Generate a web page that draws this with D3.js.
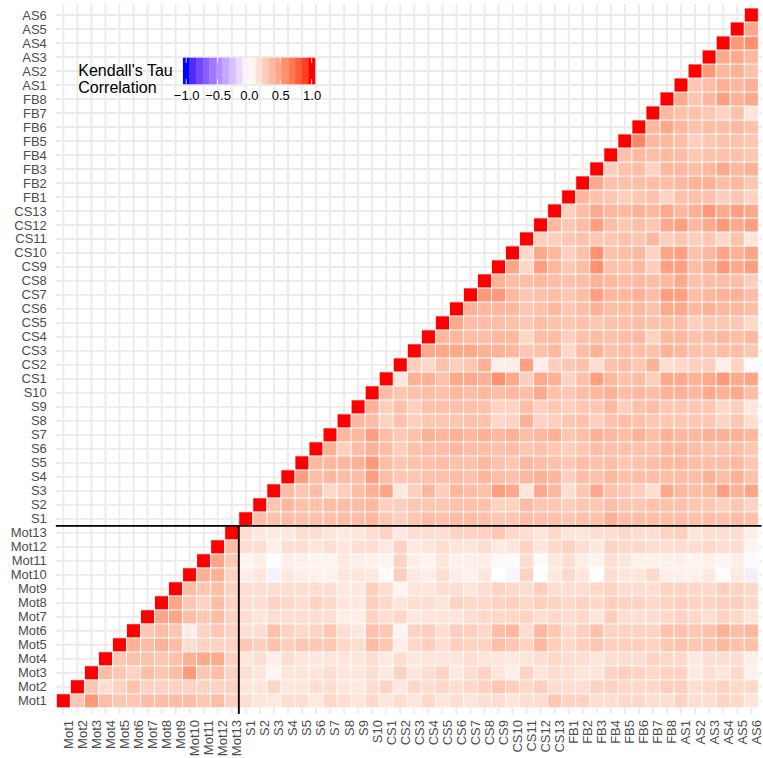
<!DOCTYPE html>
<html>
<head>
<meta charset="utf-8">
<script src="https://cdn.jsdelivr.net/npm/d3@7"></script>
<style>
  body { margin: 0; background: #fff; }
  svg { display: block; font-family: "Liberation Sans", Arial, Helvetica, sans-serif; }
</style>
</head>
<body>
<svg id="chart" width="763" height="758"></svg>
<script>
// variable names, in axis order
var motVars = ['Mot1','Mot2','Mot3','Mot4','Mot5','Mot6','Mot7','Mot8','Mot9','Mot10','Mot11','Mot12','Mot13'];
var sVars = ['S1','S2','S3','S4','S5','S6','S7','S8','S9','S10'];
var csVars = ['CS1','CS2','CS3','CS4','CS5','CS6','CS7','CS8','CS9','CS10','CS11','CS12','CS13'];
var fbVars = ['FB1','FB2','FB3','FB4','FB5','FB6','FB7','FB8'];
var asVars = ['AS1','AS2','AS3','AS4','AS5','AS6'];

// Kendall's tau, upper triangle: each row starts at its own diagonal
var tauMot = [
  [1,.30,.53,.35,.30,.30,.35,.35,.35,.35,.30,.35,.24,.18,.14,.12,.18,.18,.12,.21,.18,.14,.21,.14,.18,.14,.21,.14,.18,.14,.18,.18,.14,.18,.18,.30,.24,.24,.18,.18,.21,.21,.18,.18,.24,.18,.18,.24,.21,.14],
  [1,.30,.18,.24,.33,.24,.24,.24,.24,.24,.24,.24,.14,.14,.21,.14,.14,.18,.18,.14,.12,.18,.24,.12,.21,.18,.21,.18,.21,.24,.30,.26,.21,.26,.18,.18,.18,.24,.24,.21,.21,.21,.26,.26,.18,.21,.24,.21,.21],
  [1,.35,.30,.24,.35,.30,.35,.53,.30,.35,.24,.18,.14,.06,.14,.14,.14,.18,.14,.14,.18,.12,.24,.14,.18,.24,.12,.18,.24,.14,.09,.24,.14,.18,.18,.14,.14,.24,.26,.24,.21,.24,.24,.12,.18,.14,.21,.07],
  [1,.30,.33,.33,.30,.33,.41,.45,.45,.24,.14,.18,.09,.18,.14,.12,.14,.14,.14,.18,.12,.18,.12,.14,.14,.14,.18,.14,.14,.12,.14,.18,.21,.18,.18,.14,.18,.18,.18,.24,.21,.21,.12,.18,.18,.18,.09],
  [1,.41,.35,.41,.35,.18,.24,.24,.24,.30,.26,.33,.26,.30,.30,.30,.21,.18,.35,.30,.09,.21,.26,.18,.26,.24,.24,.35,.30,.24,.38,.26,.21,.26,.30,.26,.26,.26,.24,.30,.33,.30,.33,.38,.33,.33],
  [1,.30,.35,.30,.09,.24,.30,.24,.18,.18,.33,.24,.21,.24,.30,.18,.12,.33,.30,.06,.24,.26,.18,.26,.26,.21,.35,.38,.18,.38,.30,.21,.26,.33,.24,.24,.24,.24,.33,.33,.30,.33,.41,.35,.38],
  [1,.47,.47,.35,.30,.35,.24,.18,.14,.18,.18,.18,.18,.18,.09,.09,.24,.18,.21,.12,.14,.14,.14,.18,.21,.21,.21,.24,.18,.21,.18,.21,.14,.26,.18,.18,.18,.21,.24,.21,.18,.24,.21,.14],
  [1,.47,.30,.24,.35,.24,.18,.18,.24,.21,.18,.24,.21,.14,.12,.26,.21,.14,.18,.18,.14,.24,.21,.21,.24,.26,.21,.26,.24,.21,.24,.21,.26,.24,.24,.21,.24,.26,.24,.24,.26,.26,.21],
  [1,.35,.30,.35,.24,.18,.18,.18,.18,.18,.18,.18,.12,.12,.26,.18,.06,.14,.14,.18,.18,.14,.18,.24,.21,.18,.26,.18,.18,.18,.21,.24,.18,.18,.18,.24,.24,.21,.21,.26,.24,.21],
  [1,.41,.41,.24,.09,.14,-.06,.12,.09,.08,.07,.14,.14,.12,.02,.26,.12,.09,.18,.09,.07,.14,.00,-.04,.24,.00,.12,.21,.14,.00,.18,.14,.14,.21,.09,.08,.08,.12,.02,.12,-.07],
  [1,.47,.30,.06,.09,.00,.09,.08,.06,.06,.12,.09,.08,.06,.24,.09,.06,.14,.08,.09,.09,.04,.02,.18,.02,.12,.18,.09,.07,.18,.14,.08,.08,.08,.08,.06,.08,.06,.09,-.02],
  [1,.35,.18,.18,.09,.18,.18,.14,.18,.14,.18,.18,.12,.24,.12,.14,.18,.14,.14,.18,.12,.14,.24,.14,.21,.24,.18,.12,.24,.21,.21,.18,.18,.18,.18,.21,.18,.18,.06],
  [1,.18,.12,.12,.12,.18,.18,.14,.12,.14,.18,.24,.12,.18,.18,.18,.24,.24,.24,.30,.21,.18,.14,.21,.14,.14,.18,.18,.21,.18,.18,.24,.26,.14,.18,.18,.18,.09]
];
var tauS = [
  [1,.35,.33,.35,.33,.33,.33,.35,.35,.38,.30,.26,.30,.35,.33,.35,.35,.33,.30,.30,.35,.33,.33,.30,.33,.33,.41,.35,.35,.35,.35,.35,.33,.35,.33,.35,.33],
  [1,.30,.38,.33,.33,.35,.35,.35,.38,.26,.26,.30,.30,.30,.33,.33,.33,.24,.24,.35,.30,.30,.26,.30,.30,.35,.30,.30,.33,.33,.33,.30,.30,.26,.30,.24],
  [1,.35,.30,.35,.21,.26,.35,.41,.47,.12,.26,.38,.26,.38,.35,.33,.50,.45,.14,.45,.38,.18,.30,.45,.33,.30,.26,.18,.45,.38,.35,.38,.50,.41,.47],
  [1,.50,.35,.38,.35,.35,.50,.35,.30,.30,.33,.33,.35,.33,.38,.35,.33,.38,.41,.38,.26,.35,.33,.38,.33,.35,.35,.35,.35,.35,.41,.35,.41,.33],
  [1,.38,.38,.38,.41,.53,.35,.30,.33,.33,.35,.33,.33,.38,.33,.30,.38,.35,.33,.30,.35,.33,.35,.30,.33,.35,.38,.38,.35,.35,.35,.38,.30],
  [1,.41,.26,.35,.41,.35,.26,.33,.35,.35,.38,.35,.35,.33,.35,.30,.33,.30,.26,.30,.35,.33,.33,.33,.33,.38,.38,.35,.33,.33,.35,.30],
  [1,.38,.38,.50,.35,.30,.33,.41,.38,.41,.38,.41,.38,.41,.35,.38,.41,.30,.35,.41,.38,.35,.41,.35,.41,.38,.38,.41,.41,.41,.38],
  [1,.38,.35,.24,.33,.26,.30,.30,.30,.33,.33,.21,.24,.41,.24,.26,.30,.33,.26,.33,.35,.33,.30,.30,.30,.30,.30,.24,.30,.18],
  [1,.41,.26,.33,.26,.33,.33,.33,.33,.33,.24,.24,.35,.26,.30,.26,.30,.30,.38,.26,.33,.35,.30,.30,.30,.30,.21,.26,.14],
  [1,.35,.30,.33,.35,.33,.38,.35,.38,.35,.38,.35,.45,.33,.30,.35,.38,.41,.35,.38,.35,.41,.41,.38,.45,.41,.45,.35]
];
var tauCS = [
  [1,.14,.41,.41,.33,.45,.45,.41,.57,.45,.26,.45,.41,.24,.33,.50,.38,.33,.35,.26,.45,.45,.41,.45,.53,.45,.47],
  [1,.26,.21,.33,.26,.30,.41,.09,.09,.50,.09,.26,.30,.33,.18,.33,.35,.30,.41,.18,.21,.26,.26,.09,.24,-.02],
  [1,.45,.45,.45,.45,.41,.41,.38,.30,.33,.38,.21,.35,.41,.33,.35,.35,.33,.41,.38,.33,.33,.35,.35,.30],
  [1,.38,.38,.35,.35,.38,.38,.21,.35,.35,.26,.33,.35,.33,.35,.38,.24,.38,.38,.33,.35,.38,.35,.38],
  [1,.45,.35,.35,.35,.33,.30,.35,.33,.30,.33,.30,.33,.33,.35,.33,.35,.35,.26,.30,.30,.30,.21],
  [1,.41,.38,.38,.38,.30,.33,.38,.30,.35,.41,.35,.35,.38,.33,.45,.45,.38,.41,.38,.38,.35],
  [1,.53,.53,.38,.30,.33,.35,.30,.35,.50,.38,.38,.41,.35,.50,.50,.35,.38,.41,.41,.35],
  [1,.41,.35,.35,.38,.35,.33,.35,.41,.38,.35,.38,.35,.38,.45,.33,.35,.35,.35,.26],
  [1,.47,.21,.50,.38,.30,.35,.57,.33,.33,.38,.26,.50,.50,.35,.41,.53,.45,.50],
  [1,.21,.45,.38,.26,.33,.57,.33,.35,.38,.24,.47,.50,.33,.38,.47,.41,.47],
  [1,.26,.26,.30,.33,.30,.30,.33,.30,.38,.26,.30,.26,.30,.21,.33,.14],
  [1,.38,.30,.35,.50,.35,.30,.35,.30,.45,.50,.38,.45,.53,.45,.50],
  [1,.26,.35,.45,.38,.38,.41,.38,.45,.38,.41,.53,.45,.50,.45]
];
var tauFB = [
  [1,.38,.33,.30,.26,.30,.33,.24,.33,.33,.33,.26,.30,.24],
  [1,.45,.33,.33,.35,.35,.35,.38,.41,.41,.35,.38,.30],
  [1,.26,.33,.35,.24,.38,.38,.35,.38,.45,.38,.41],
  [1,.33,.38,.35,.38,.35,.30,.33,.33,.33,.30],
  [1,.62,.38,.38,.35,.26,.30,.33,.33,.30],
  [1,.38,.45,.38,.33,.35,.35,.38,.33],
  [1,.38,.33,.33,.30,.24,.33,.14],
  [1,.45,.30,.38,.50,.41,.45]
];
var tauAS = [
  [1,.30,.35,.41,.38,.41],
  [1,.53,.38,.41,.33],
  [1,.45,.45,.38],
  [1,.53,.57],
  [1,.47],
  [1]
];

var legendTicks = [-1, -0.5, 0, 0.5, 1];

var vars = motVars.concat(sVars, csVars, fbVars, asVars);
var rows = tauMot.concat(tauS, tauCS, tauFB, tauAS);

var cells = [];
rows.forEach(function(row, i) {
    row.forEach(function(v, k) {
        cells.push({row: vars[i], col: vars[i + k], value: v});
    });
});

var svg = d3.select('#chart');

// panel extents and tile bands
var panel = {left: 55.8, right: 761.5, top: 4, bottom: 708};
var x = d3.scaleBand().domain(vars).range([56.3, 758.3]);
var y = d3.scaleBand().domain(vars).range([707.8, 8]);
var bw = x.bandwidth(), bh = y.bandwidth();

var fill = d3.scaleLinear()
    .domain([-1, 0, 1])
    .range(['#0000ff', '#ffffff', '#ff0000'])
    .interpolate(d3.interpolateLab);

// grid
var grid = svg.append('g').attr('stroke', '#ebebeb').attr('stroke-width', 1.9);
grid.selectAll('line.gx').data(vars).enter().append('line')
    .attr('x1', function(d) { return x(d) + bw / 2; })
    .attr('x2', function(d) { return x(d) + bw / 2; })
    .attr('y1', panel.top).attr('y2', panel.bottom);
grid.selectAll('line.gy').data(vars).enter().append('line')
    .attr('y1', function(d) { return y(d) + bh / 2; })
    .attr('y2', function(d) { return y(d) + bh / 2; })
    .attr('x1', panel.left).attr('x2', panel.right);

// tiles
svg.append('g').selectAll('rect').data(cells).enter().append('rect')
    .attr('x', function(d) { return x(d.col); })
    .attr('y', function(d) { return y(d.row); })
    .attr('width', bw)
    .attr('height', bh)
    .attr('fill', function(d) { return fill(d.value); })
    .attr('stroke', '#fff')
    .attr('stroke-width', 0.8);

// separators between Mot block and the rest
svg.append('line')
    .attr('x1', panel.left).attr('x2', panel.right)
    .attr('y1', y('Mot13')).attr('y2', y('Mot13'))
    .attr('stroke', '#000').attr('stroke-width', 1.9);
svg.append('line')
    .attr('x1', x('S1')).attr('x2', x('S1'))
    .attr('y1', y('Mot13')).attr('y2', 714)
    .attr('stroke', '#000').attr('stroke-width', 1.9);

// axes
var yAxis = svg.append('g')
    .attr('transform', 'translate(' + panel.left + ',0)')
    .call(d3.axisLeft(y).tickSize(0).tickPadding(9));
yAxis.select('.domain').remove();
yAxis.selectAll('text')
    .attr('fill', '#4d4d4d')
    .attr('font-size', '13px')
    .attr('font-family', null)
    .attr('dy', '0.35em');

var xAxis = svg.append('g')
    .attr('transform', 'translate(0,' + panel.bottom + ')')
    .call(d3.axisBottom(x).tickSize(6));
xAxis.select('.domain').remove();
xAxis.selectAll('.tick line').attr('stroke', '#ebebeb').attr('stroke-width', 1.9);
xAxis.selectAll('text')
    .attr('fill', '#4d4d4d')
    .attr('font-size', '13px')
    .attr('font-family', null)
    .attr('text-anchor', 'end')
    .attr('transform', 'rotate(-90)')
    .attr('x', -12)
    .attr('y', 9.4)
    .attr('dy', 0);

// legend
var legend = svg.append('g');
legend.append('text')
    .attr('x', 78.3).attr('y', 76)
    .attr('font-size', '16px').attr('fill', '#000')
    .text("Kendall's Tau");
legend.append('text')
    .attr('x', 78.3).attr('y', 93.3)
    .attr('font-size', '16px').attr('fill', '#000')
    .text('Correlation');

var bar = {x: 182.9, y: 57.7, w: 132, h: 26.6, nbin: 20};
var binW = bar.w / bar.nbin;
var binVals = d3.range(bar.nbin).map(function(k) { return -1 + 2 * k / (bar.nbin - 1); });
legend.selectAll('rect.bin').data(binVals).enter().append('rect')
    .attr('x', function(d, k) { return bar.x + k * binW; })
    .attr('y', bar.y)
    .attr('width', binW + 0.3)
    .attr('height', bar.h)
    .attr('fill', function(d) { return fill(d); });

var lx = d3.scaleLinear().domain([-1, 1]).range([bar.x + binW / 2, bar.x + bar.w - binW / 2]);
legendTicks.forEach(function(t) {
    legend.append('line')
        .attr('x1', lx(t)).attr('x2', lx(t))
        .attr('y1', bar.y).attr('y2', bar.y + bar.h / 5)
        .attr('stroke', '#fff').attr('stroke-width', 0.8);
    legend.append('line')
        .attr('x1', lx(t)).attr('x2', lx(t))
        .attr('y1', bar.y + bar.h - bar.h / 5).attr('y2', bar.y + bar.h)
        .attr('stroke', '#fff').attr('stroke-width', 0.8);
});

var lAxis = legend.append('g')
    .attr('transform', 'translate(0,' + (bar.y + bar.h) + ')')
    .call(d3.axisBottom(lx).tickValues(legendTicks).tickFormat(d3.format('.1f')).tickSize(0).tickPadding(6.5));
lAxis.select('.domain').remove();
lAxis.selectAll('text')
    .attr('fill', '#000')
    .attr('font-size', '13px')
    .attr('font-family', null);
</script>
</body>
</html>
